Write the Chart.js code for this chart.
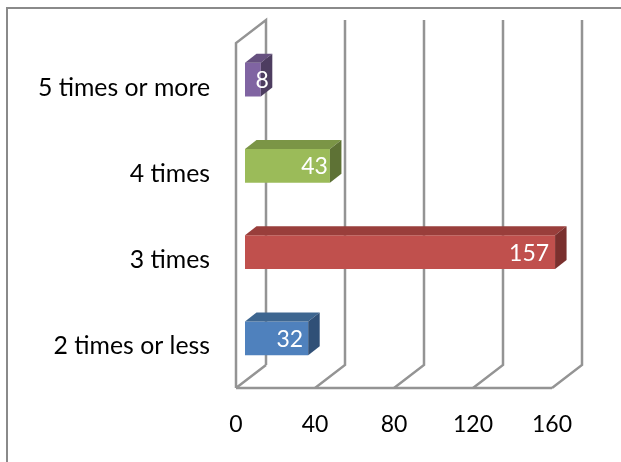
<!DOCTYPE html>
<html lang="en">
<head>
    <meta charset="UTF-8">
    <title>Times chart</title>
    <script src="https://cdn.jsdelivr.net/npm/chart.js"></script>
    <style>
        html, body { margin: 0; padding: 0; background: #fff; overflow: hidden; }
        #frame { position: absolute; left: 6px; top: 7px; width: 630px; height: 470px; border: 2px solid #8A8A8A; box-sizing: border-box; }
        canvas { position: absolute; left: 0; top: 0; }
    </style>
</head>
<body>
    <div id="frame"></div>
    <canvas id="chart" width="621" height="462"></canvas>
    <script>
        const categories = ['5 times or more', '4 times', '3 times', '2 times or less'];
        const counts = [8, 43, 157, 32];
        const frontColors = ['#8064A2', '#9BBB59', '#C0504D', '#4F81BD'];
        const topColors = ['#66507F', '#7B9546', '#993E3B', '#3E6690'];
        const sideColors = ['#4D3D60', '#5E7235', '#7A302E', '#305077'];
        const xTicks = [0, 40, 80, 120, 160];

        // bars sit in the middle of the depth, walls go to the back
        const barShiftX = 9, barShiftY = -6.5;
        const depthX = 11.5, depthY = -9;
        const wallX = 30, wallY = -23;
        const valueNudge = [8, -2, -6, -5];
        const fontName = 'Lato, "Open Sans", sans-serif';

        const box3d = {
            id: 'box3d',
            beforeDatasetsDraw(chart) {
                const { ctx, chartArea, scales } = chart;
                ctx.save();
                ctx.strokeStyle = '#949494';
                ctx.lineWidth = 2.5;
                xTicks.forEach(v => {
                    const x = scales.x.getPixelForValue(v);
                    ctx.beginPath();
                    if (v === 0) {
                        ctx.moveTo(x, chartArea.bottom);
                        ctx.lineTo(x, chartArea.top);
                        ctx.lineTo(x + wallX, chartArea.top + wallY);
                        ctx.lineTo(x + wallX, chartArea.bottom + wallY);
                        ctx.moveTo(x, chartArea.bottom);
                        ctx.lineTo(x + wallX, chartArea.bottom + wallY);
                    } else {
                        ctx.moveTo(x, chartArea.bottom);
                        ctx.lineTo(x + wallX, chartArea.bottom + wallY);
                        ctx.lineTo(x + wallX, chartArea.top + wallY);
                    }
                    ctx.stroke();
                });
                ctx.beginPath();
                ctx.moveTo(scales.x.left, chartArea.bottom);
                ctx.lineTo(scales.x.right, chartArea.bottom);
                ctx.stroke();
                ctx.restore();
                // shift the bars into the floor depth until they are drawn
                ctx.save();
                ctx.translate(barShiftX, barShiftY);
            },
            afterDatasetsDraw(chart) {
                const { ctx } = chart;
                chart.getDatasetMeta(0).data.forEach((bar, i) => {
                    const left = bar.base, right = bar.x;
                    const top = bar.y - bar.height / 2, bottom = bar.y + bar.height / 2;
                    ctx.fillStyle = topColors[i];
                    ctx.beginPath();
                    ctx.moveTo(left, top);
                    ctx.lineTo(left + depthX, top + depthY);
                    ctx.lineTo(right + depthX, top + depthY);
                    ctx.lineTo(right, top);
                    ctx.closePath();
                    ctx.fill();
                    ctx.fillStyle = sideColors[i];
                    ctx.beginPath();
                    ctx.moveTo(right, top);
                    ctx.lineTo(right + depthX, top + depthY);
                    ctx.lineTo(right + depthX, bottom + depthY);
                    ctx.lineTo(right, bottom);
                    ctx.closePath();
                    ctx.fill();
                    ctx.fillStyle = '#fff';
                    ctx.font = '23px ' + fontName;
                    ctx.textAlign = 'right';
                    ctx.textBaseline = 'middle';
                    ctx.fillText(counts[i], right + valueNudge[i], bar.y + 1);
                });
                ctx.restore();
            }
        };

        new Chart(document.getElementById('chart'), {
            type: 'bar',
            data: {
                labels: categories,
                datasets: [{
                    data: counts,
                    backgroundColor: frontColors,
                    borderWidth: 0,
                    barPercentage: 0.39,
                    categoryPercentage: 1
                }]
            },
            options: {
                indexAxis: 'y',
                responsive: false,
                animation: false,
                layout: { padding: { top: 43, right: 69, left: 0, bottom: 0 } },
                plugins: { legend: { display: false }, tooltip: { enabled: false } },
                scales: {
                    x: {
                        min: 0,
                        max: 160,
                        grid: { display: false },
                        border: { display: false },
                        afterBuildTicks(axis) { axis.ticks = xTicks.map(value => ({ value })); },
                        afterFit(axis) { axis.height = 74; },
                        ticks: {
                            color: '#000',
                            padding: 15,
                            maxRotation: 0,
                            font: { family: fontName, size: 23 }
                        }
                    },
                    y: {
                        grid: { display: false },
                        border: { display: false },
                        afterFit(axis) { axis.width = 236; },
                        ticks: {
                            color: '#000',
                            padding: 18,
                            labelOffset: 1.5,
                            font: { family: fontName, size: 24.8 }
                        }
                    }
                }
            },
            plugins: [box3d]
        });
    </script>
</body>
</html>
